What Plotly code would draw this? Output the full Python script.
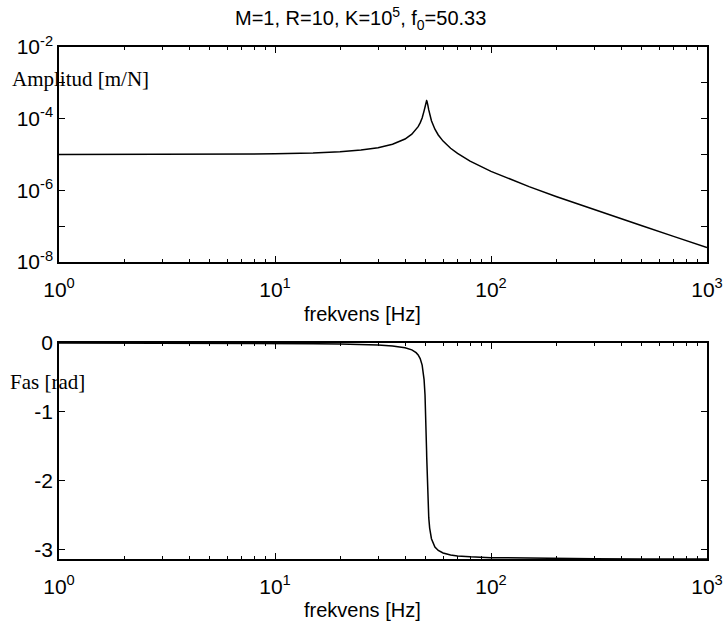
import plotly.graph_objects as go

# Frequency [Hz]
freq = [1, 2, 5, 10, 15, 20, 25, 30, 35, 38, 40, 43, 45, 46, 47, 48, 49, 49.5, 49.7,
        50, 50.1, 50.2, 50.33, 50.4, 50.5, 50.7, 51, 51.5, 52, 53, 55, 57, 60, 65, 70,
        80, 100, 150, 200, 300, 500, 700, 1000]
# Amplitude [m/N]
amp = [1.0004e-5, 1.0016e-5, 1.0100e-5, 1.0411e-5, 1.0975e-5, 1.1875e-5, 1.3276e-5,
       1.5504e-5, 1.9348e-5, 2.3224e-5, 2.7085e-5, 3.6846e-5, 4.937e-5, 5.982e-5,
       7.617e-5, 1.0491e-4, 1.6515e-4, 2.2163e-4, 2.5053e-4, 2.940e-4, 3.052e-4,
       3.1292e-4, 3.162e-4, 3.1451e-4, 3.0817e-4, 2.847e-4, 2.3933e-4, 1.7512e-4,
       1.3337e-4, 8.778e-5, 5.069e-5, 3.510e-5, 2.3646e-5, 1.4943e-5, 1.0690e-5,
       6.547e-6, 3.3915e-6, 1.2685e-6, 6.7607e-7, 2.8960e-7, 1.0236e-7, 5.1963e-8,
       2.5395e-8]
# Phase [rad]
phase = [-0.00063, -0.00126, -0.00317, -0.00654, -0.01034, -0.01492, -0.02085,
         -0.02923, -0.04256, -0.05548, -0.06810, -0.09972, -0.14003, -0.17376,
         -0.2269, -0.3220, -0.5334, -0.7604, -0.8990, -1.1774, -1.2896, -1.4092,
         -1.5714, -1.6593, -1.7820, -2.0051, -2.2681, -2.5392, -2.6906, -2.8451,
         -2.9654, -3.0156, -3.0523, -3.0805, -3.0946, -3.1087, -3.1203, -3.1296,
         -3.1331, -3.1361, -3.1384, -3.1393, -3.1400]

x_major = [1, 10, 100, 1000]
x_major_text = ["10<sup>0</sup>", "10<sup>1</sup>", "10<sup>2</sup>", "10<sup>3</sup>"]
x_minor = [2, 3, 4, 5, 6, 7, 8, 9, 20, 30, 40, 50, 60, 70, 80, 90,
           200, 300, 400, 500, 600, 700, 800, 900]
amp_ticks = [1e-2, 1e-3, 1e-4, 1e-5, 1e-6, 1e-7, 1e-8]
amp_text = ["10<sup>-2</sup>", "", "10<sup>-4</sup>", "", "10<sup>-6</sup>", "", "10<sup>-8</sup>"]
phase_ticks = [0, -1, -2, -3]
phase_text = ["0", "-1", "-2", "-3"]

W, H = 723, 627
L, R = 59, 707
T1, B1 = 47, 262
T2, B2 = 343, 559

def px(x):
    return x / W

def py(y):
    return 1 - y / H

sans = "Liberation Sans, Arial, sans-serif"
serif = "Liberation Serif, Times New Roman, serif"

fig = go.Figure()
fig.add_trace(go.Scatter(x=freq, y=amp, mode="lines", line=dict(color="black", width=1.5),
                         xaxis="x", yaxis="y", showlegend=False))
fig.add_trace(go.Scatter(x=freq, y=phase, mode="lines", line=dict(color="black", width=1.5),
                         xaxis="x2", yaxis="y2", showlegend=False))

axis_common = dict(showline=True, linecolor="black", linewidth=1.5, mirror="ticks",
                   ticks="inside", ticklen=6, tickwidth=1, tickcolor="black",
                   showgrid=False, zeroline=False, automargin=False,
                   tickfont=dict(family=sans, size=21, color="black"))

xcommon = dict(axis_common, type="log", range=[0, 3], tickmode="array",
               tickvals=x_major, ticktext=x_major_text, ticklabelstandoff=8,
               minor=dict(tickmode="array", tickvals=x_minor, ticks="inside", ticklen=3,
                          tickcolor="black", tickwidth=1, showgrid=False),
               domain=[px(L), px(R)])

fig.update_layout(
    width=W, height=H, autosize=False,
    margin=dict(l=0, r=0, t=0, b=0, autoexpand=False),
    paper_bgcolor="white", plot_bgcolor="white",
    xaxis=dict(xcommon, anchor="y"),
    yaxis=dict(axis_common, type="log", range=[-8, -2], tickmode="array",
               tickvals=amp_ticks, ticktext=amp_text, anchor="x",
               domain=[py(B1), py(T1)]),
    xaxis2=dict(xcommon, anchor="y2"),
    yaxis2=dict(axis_common, range=[-3.14, 0], tickmode="array",
                tickvals=phase_ticks, ticktext=phase_text, anchor="x2",
                domain=[py(B2), py(T2)]),
)

ann = [
    dict(text="M=1, R=10, K=10<sup>5</sup>, f<sub>0</sub>=50.33", x=px(360), y=py(19),
         font=dict(family=sans, size=20, color="black")),
    dict(text="frekvens [Hz]", x=px(362), y=py(314),
         font=dict(family=sans, size=20, color="black")),
    dict(text="frekvens [Hz]", x=px(362), y=py(610),
         font=dict(family=sans, size=20, color="black")),
    dict(text="Amplitud [m/N]", x=px(10), y=py(79), xanchor="left",
         font=dict(family=serif, size=21, color="black")),
    dict(text="Fas [rad]", x=px(8), y=py(382), xanchor="left",
         font=dict(family=serif, size=21, color="black")),
]
for a in ann:
    a.setdefault("xanchor", "center")
    fig.add_annotation(xref="paper", yref="paper", showarrow=False, yanchor="middle",
                       bgcolor="rgba(0,0,0,0)", **a)

fig.write_html("out.html")
